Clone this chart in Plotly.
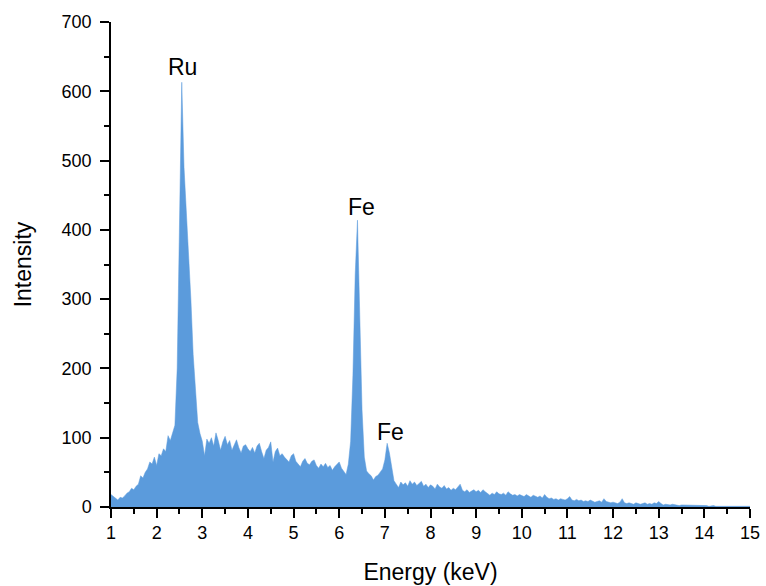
import numpy as np
import plotly.graph_objects as go

ENERGY_START = 1.0
ENERGY_STEP = 0.05

intensity = [
    # 1.00 - 1.95
    18, 15, 12, 10, 14, 13, 16, 20, 22, 27, 25, 30, 33, 45, 42, 50, 55, 65, 62, 72,
    # 2.00 - 2.95
    60, 77, 74, 84, 80, 103, 96, 108, 118, 200, 400, 613, 490, 430, 370, 300, 220, 165, 122, 106,
    # 3.00 - 3.95
    95, 74, 98, 92, 100, 88, 107, 96, 82, 94, 102, 90, 96, 82, 90, 97, 86, 78, 88, 90,
    # 4.00 - 4.95
    84, 80, 86, 78, 88, 92, 80, 70, 82, 86, 94, 65, 80, 85, 74, 77, 72, 68, 65, 74,
    # 5.00 - 5.95
    77, 66, 62, 58, 66, 70, 63, 61, 66, 68, 60, 56, 62, 58, 63, 57, 60, 53, 58, 62,
    # 6.00 - 6.95
    65, 56, 52, 47, 62, 95, 190, 335, 414, 290, 140, 72, 52, 48, 45, 39, 44, 46, 50, 55,
    # 7.00 - 7.95
    68, 92, 78, 55, 38, 33, 28, 36, 32, 35, 30, 38, 33, 36, 31, 34, 37, 30, 33, 28,
    # 8.00 - 8.95
    32, 30, 26, 33, 29, 27, 31, 26, 28, 24, 27, 25, 29, 33, 24, 22, 25, 21, 23, 25,
    # 9.00 - 9.95
    22, 24, 21, 25, 22, 19, 17, 20, 18, 22, 19, 18, 20, 17, 22, 19, 17, 18, 16, 18,
    # 10.00 - 10.95
    17, 15, 18, 16, 14, 17, 15, 14, 16, 13, 18, 14, 12, 13, 11, 12, 10, 12, 11, 10,
    # 11.00 - 11.95
    12, 15, 10, 9, 11, 9, 10, 8, 9, 8, 10, 9, 7, 8, 9, 7, 12, 8, 7, 6,
    # 12.00 - 12.95
    7, 6, 5, 7, 12, 6, 5, 6, 5, 4, 6, 5, 4, 5, 6, 4, 5, 4, 6, 5,
    # 13.00 - 13.95
    8, 5, 3, 4, 3, 3, 4, 3, 3, 2, 3, 3, 2, 3, 2, 2, 3, 2, 2, 2,
    # 14.00 - 15.00
    2, 2, 1, 2, 2, 1, 1, 2, 1, 1, 1, 1, 1, 1, 1, 1, 1, 1, 1, 1, 1,
]
energy = np.round(ENERGY_START + ENERGY_STEP * np.arange(len(intensity)), 3)

peak_labels = ["Ru", "Fe", "Fe"]
peak_label_x = [2.57, 6.49, 7.13]
peak_label_y = [635, 433, 108]

x_ticks = list(range(1, 16))
y_ticks = [0, 100, 200, 300, 400, 500, 600, 700]

FILL = "#5b9bdc"
FONT = "Arial"

fig = go.Figure()
fig.add_trace(go.Scatter(
    x=energy, y=intensity, mode="lines", fill="tozeroy",
    fillcolor=FILL, line=dict(color=FILL, width=0.5), hoverinfo="x+y",
    showlegend=False,
))

for t, xx, yy in zip(peak_labels, peak_label_x, peak_label_y):
    fig.add_annotation(x=xx, y=yy, text=t, showarrow=False,
                       font=dict(family=FONT, size=23, color="black"),
                       xanchor="center", yanchor="middle")

fig.update_layout(
    width=766, height=586,
    margin=dict(l=111, r=16, t=22, b=79, autoexpand=False),
    paper_bgcolor="white", plot_bgcolor="white",
    font=dict(family=FONT, color="black"),
)
fig.update_xaxes(
    range=[1, 15], tickvals=x_ticks, ticktext=[str(v) for v in x_ticks],
    showgrid=False, zeroline=False, automargin=False,
    showline=True, linecolor="black", linewidth=1.5,
    ticks="outside", ticklen=9, tickwidth=1.5, tickcolor="black",
    tickfont=dict(family=FONT, size=18, color="black"),
    minor=dict(dtick=0.5, tick0=1, ticks="outside", ticklen=5, tickwidth=1.5, tickcolor="black", showgrid=False),
    title=dict(text="Energy (keV)", font=dict(family=FONT, size=23, color="black"), standoff=22),
)
fig.update_yaxes(
    range=[0, 700], tickvals=y_ticks, ticktext=[str(v) for v in y_ticks],
    showgrid=False, zeroline=False, automargin=False,
    showline=True, linecolor="black", linewidth=1.5,
    ticks="outside", ticklen=9, tickwidth=1.5, tickcolor="black",
    ticklabelstandoff=5,
    tickfont=dict(family=FONT, size=18, color="black"),
    minor=dict(dtick=50, tick0=0, ticks="outside", ticklen=5, tickwidth=1.5, tickcolor="black", showgrid=False),
    title=dict(text="Intensity", font=dict(family=FONT, size=23, color="black"), standoff=24),
)

fig.write_html("out.html")
